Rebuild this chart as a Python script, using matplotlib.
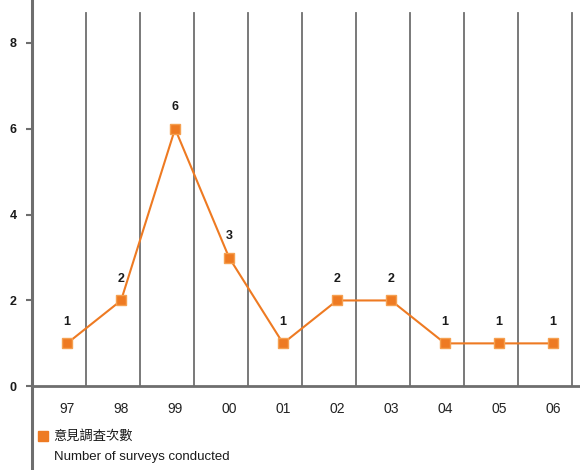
import matplotlib
matplotlib.use("Agg")
import matplotlib.pyplot as plt

# survey counts per year
years = ['97', '98', '99', '00', '01', '02', '03', '04', '05', '06']
counts = [1, 2, 6, 3, 1, 2, 2, 1, 1, 1]
yticks = [0, 2, 4, 6, 8]
legend_zh = '意見調査次數'
legend_en = 'Number of surveys conducted'

orange = '#EE7A22'
grey = '#6E6E6E'
plt.rcParams['font.family'] = ['Liberation Sans', 'Noto Sans CJK TC', 'DejaVu Sans']

fig = plt.figure(figsize=(5.8, 4.7), dpi=100)
ax = fig.add_axes([32 / 580, 0, 548 / 580, 1])
ax.set_xlim(-0.65, 9.5)
ax.set_ylim(-1.95, 9)

x = list(range(len(years)))

# vertical separators
for i in x:
    ax.plot([i + 0.35, i + 0.35], [0, 8.7], color=grey, lw=1.3, zorder=1)

ax.axhline(0, color=grey, lw=2, zorder=2)

ax.plot(x, counts, color=orange, lw=1.5, marker='s', markersize=7.5,
        markerfacecolor=orange, markeredgecolor='#F5A050', zorder=3)
for i, c in zip(x, counts):
    ax.annotate(str(c), (i, c), xytext=(0, 11), textcoords='offset points',
                ha='center', va='bottom', fontsize=9, fontweight='bold', color='#1a1a1a')

for i, lab in zip(x, years):
    ax.text(i, -0.52, lab, ha='center', va='center', fontsize=10, color='#222222')

# y axis
for s in ['top', 'right', 'bottom']:
    ax.spines[s].set_visible(False)
ax.spines['left'].set_color(grey)
ax.spines['left'].set_linewidth(2.2)
ax.set_yticks(yticks)
ax.set_yticklabels([str(t) for t in yticks], fontsize=9, fontweight='bold', color='#1a1a1a')
ax.tick_params(axis='y', length=4, width=1.5, color=grey, pad=7)
ax.set_xticks([])

# legend
ax.plot([-0.44], [-1.16], marker='s', markersize=6.5, color=orange, linestyle='none')
ax.text(-0.25, -1.16, legend_zh, ha='left', va='center', fontsize=9.5, color='#1a1a1a')
ax.text(-0.25, -1.64, legend_en, ha='left', va='center', fontsize=9.5, color='#1a1a1a')

fig.savefig('out.png', dpi=100)
